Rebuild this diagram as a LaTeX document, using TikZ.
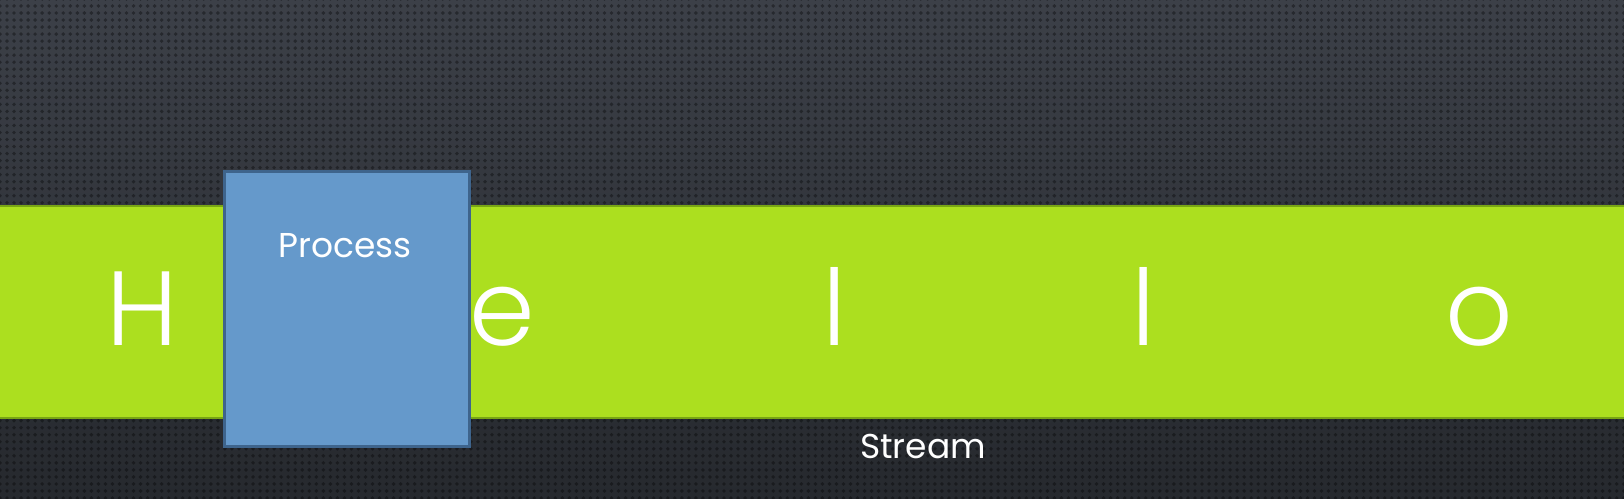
\documentclass[tikz,border=0pt]{standalone}
\usepackage{fontspec}
\usetikzlibrary{patterns.meta}
\setmainfont{Poppins}
\newfontfamily\thinfont{Poppins Light}
\definecolor{slate}{RGB}{38,41,46}
\definecolor{slatetop}{RGB}{60,64,72}
\definecolor{lime}{RGB}{172,223,31}
\definecolor{limeedge}{RGB}{120,165,20}
\definecolor{procblue}{RGB}{101,153,203}
\definecolor{procedge}{RGB}{62,100,140}

\tikzset{
  streamchar/.style={text=white, anchor=base, font={\thinfont\fontsize{30}{30}\selectfont}},
  caption/.style={text=white, font={\fontsize{9.8}{10}\selectfont}}
}

\begin{document}
\begin{tikzpicture}

\useasboundingbox (0,0) rectangle (16.24,4.98);

% background
\shade[top color=slatetop, bottom color=slate] (0,0) rectangle (16.24,4.98);
\fill[pattern={Dots[radius=0.55pt, distance=2pt]}, pattern color=black, opacity=0.35]
 (0,0) rectangle (16.24,4.98);

% stream band
\node [draw=limeedge, fill=lime, anchor=south west, inner sep=0pt,
minimum width=16.4cm, minimum height=2.12cm, line width=0.6pt] (band)
 at (-0.05,0.79) {};

\node [streamchar] (h) at (1.42,1.53) {H};
\node [streamchar] (e) at (5.02,1.53) {e};
\node [streamchar] (l1) at (8.35,1.53) {l};
\node [streamchar] (l2) at (11.44,1.53) {l};
\node [streamchar] (o) at (14.79,1.53) {o};

% process box
\node [draw=procedge, fill=procblue, anchor=south west, inner sep=0pt,
minimum width=2.45cm, minimum height=2.75cm, line width=0.8pt] (proc)
 at (2.23,0.50) {};

\node [caption] (proclabel) at (3.45,2.52) {Process};

\node [caption] (streamlabel) at (9.23,0.52) {Stream};

\end{tikzpicture}
\end{document}
